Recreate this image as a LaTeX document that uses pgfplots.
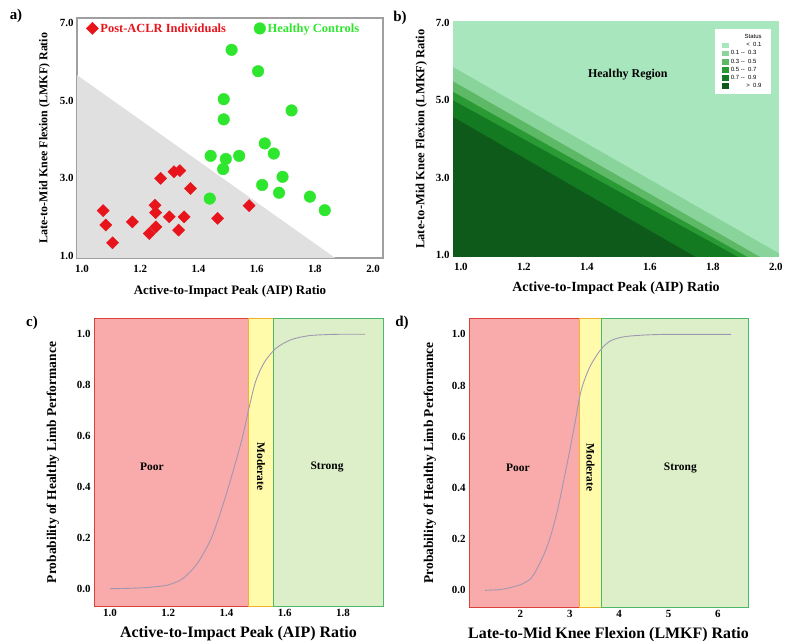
\documentclass[border=0pt]{standalone}
\usepackage{fontspec}
\setmainfont{Liberation Serif}
\newfontfamily\legsans{Liberation Sans}
\usepackage{pgfplots}
\pgfplotsset{compat=1.18}

\definecolor{aclrRed}{HTML}{E8141B}
\definecolor{ctrlGreen}{HTML}{2EE62E}
\definecolor{triGray}{HTML}{E0E0E0}
\definecolor{gA}{HTML}{A8E6BE}
\definecolor{gB}{HTML}{88D49A}
\definecolor{gC}{HTML}{5DB966}
\definecolor{gD}{HTML}{2A9A35}
\definecolor{gE}{HTML}{137A22}
\definecolor{gF}{HTML}{0E5A1A}
\definecolor{poorFill}{HTML}{F9AAAA}
\definecolor{poorLine}{HTML}{D9413A}
\definecolor{modFill}{HTML}{FFFBAA}
\definecolor{modLine}{HTML}{F0B030}
\definecolor{strFill}{HTML}{DCEFC8}
\definecolor{strLine}{HTML}{4CB86A}
\definecolor{curve}{HTML}{A098B0}

\pgfplotsset{
  panel/.style={
    scale only axis, anchor=south west,
    major tick length=0pt,
    xticklabel={\pgfmathprintnumber{\tick}},
    yticklabel={\pgfmathprintnumber{\tick}},
    tick label style={font=\bfseries\fontsize{11}{13}\selectfont},
    label style={font=\bfseries},
    /pgf/number format/.cd, fixed, fixed zerofill, precision=1, assume math mode=true,
  },
}

\begin{document}
\begin{tikzpicture}
\useasboundingbox (0,0) rectangle (787bp,641bp);

% ---------- a) scatter
\begin{axis}[panel, at={(77bp,383bp)}, width=306bp, height=240bp,
  xmin=0.983, xmax=2.034, ymin=0.95, ymax=7.13,
  xtick={1.0,1.2,1.4,1.6,1.8,2.0}, ytick={1.0,3.0,5.0,7.0},
  axis line style={draw=gray!75, line width=1.2pt},
  xticklabel style={yshift=-4bp},
  xlabel={\fontsize{13}{15}\selectfont Active-to-Impact Peak (AIP) Ratio},
  ylabel={\fontsize{12}{14}\selectfont Late-to-Mid Knee Flexion (LMKF) Ratio},
  xlabel style={yshift=-6bp}, ylabel style={yshift=3bp},
  legend columns=2,
  legend style={draw=none, fill=none, at={(0.02,0.995)}, anchor=north west,
    font=\bfseries\fontsize{12.5}{14}\selectfont,
    /tikz/every even column/.append style={column sep=26bp}},
]
\addplot[fill=triGray, draw=none, forget plot] coordinates {(0.983,0.95) (0.983,5.66) (1.87,0.95)} --cycle;
\addplot[only marks, mark=square*, mark size=4.3bp, color=aclrRed,
  mark options={rotate=45}] coordinates {
  (1.073,2.17) (1.082,1.80) (1.105,1.34) (1.173,1.88) (1.231,1.58)
  (1.254,1.75) (1.251,2.31) (1.253,2.12) (1.270,3.00) (1.300,2.01)
  (1.316,3.17) (1.336,3.20) (1.332,1.67) (1.351,2.01) (1.373,2.74)
  (1.466,1.97) (1.574,2.30)};
\addlegendentry{\textcolor{aclrRed}{Post-ACLR Individuals}}
\addplot[only marks, mark=*, mark size=5.8bp, color=ctrlGreen] coordinates {
  (1.514,6.31) (1.605,5.76) (1.487,5.04) (1.487,4.52) (1.720,4.75)
  (1.442,3.58) (1.494,3.50) (1.540,3.58) (1.485,3.24) (1.628,3.90)
  (1.659,3.64) (1.689,3.04) (1.619,2.83) (1.677,2.63) (1.439,2.48)
  (1.783,2.53) (1.834,2.18)};
\addlegendentry{\textcolor{ctrlGreen}{Healthy Controls}}
\end{axis}

% ---------- b) probability regions
\begin{axis}[panel, at={(453bp,384bp)}, width=326bp, height=236bp,
  xmin=0.975, xmax=2.01, ymin=0.95, ymax=7.05,
  xtick={1.0,1.2,1.4,1.6,1.8,2.0}, ytick={1.0,3.0,5.0,7.0},
  axis line style={draw=none},
  xticklabel style={yshift=-3bp},
  xlabel={\fontsize{14}{16}\selectfont Active-to-Impact Peak (AIP) Ratio},
  ylabel={\fontsize{12.5}{14}\selectfont Late-to-Mid Knee Flexion (LMKF) Ratio},
  xlabel style={yshift=-4bp}, ylabel style={yshift=2bp},
  legend cell align=left,
  legend style={draw=none, fill=white, at={(0.975,0.965)}, anchor=north east,
    font=\legsans\fontsize{6}{7}\selectfont, row sep=-1.5pt,
    inner xsep=7pt, inner ysep=3pt},
  legend image code/.code={\fill[#1] (0pt,-2.8pt) rectangle (6.5pt,2.8pt);},
]
\addlegendimage{empty legend}
\addlegendentry{\hspace{14pt}Status}
\addplot[fill=gA, draw=none] coordinates {(0.975,0.95) (0.975,7.05) (2.01,7.05) (2.01,0.95)} --cycle;
\addlegendentry{\hphantom{0.1 -- }< \ 0.1}
\addplot[fill=gB, draw=none] coordinates {(0.975,0.95) (0.975,5.86) (2.03,0.95)} --cycle;
\addlegendentry{0.1 -- \ 0.3}
\addplot[fill=gC, draw=none] coordinates {(0.975,0.95) (0.975,5.49) (1.95,0.95)} --cycle;
\addlegendentry{0.3 -- \ 0.5}
\addplot[fill=gD, draw=none] coordinates {(0.975,0.95) (0.975,5.22) (1.91,0.95)} --cycle;
\addlegendentry{0.5 -- \ 0.7}
\addplot[fill=gE, draw=none] coordinates {(0.975,0.95) (0.975,5.00) (1.88,0.95)} --cycle;
\addlegendentry{0.7 -- \ 0.9}
\addplot[fill=gF, draw=none] coordinates {(0.975,0.95) (0.975,4.57) (1.745,0.95)} --cycle;
\addlegendentry{\hphantom{0.1 -- }> \ 0.9}
\node[font=\bfseries\fontsize{12}{14}\selectfont] at (axis cs:1.53,5.65) {Healthy Region};
\end{axis}

% ---------- c) AIP probability curve
\begin{axis}[panel, at={(94bp,35bp)}, width=289bp, height=287bp,
  xmin=0.945, xmax=1.937, ymin=-0.068, ymax=1.06, clip=false,
  xtick={1.0,1.2,1.4,1.6,1.8}, ytick={0.0,0.2,0.4,0.6,0.8,1.0},
  axis line style={draw=none},
  xlabel={\fontsize{16}{18}\selectfont Active-to-Impact Peak (AIP) Ratio},
  ylabel={\fontsize{13.5}{16}\selectfont Probability of Healthy Limb Performance},
  xlabel style={yshift=-3bp}, ylabel style={yshift=11bp},
]
\addplot[fill=poorFill, draw=poorLine, line width=1pt] coordinates {(0.945,-0.068) (0.945,1.06) (1.475,1.06) (1.475,-0.068)} --cycle;
\addplot[fill=modFill, draw=modLine, line width=1pt] coordinates {(1.475,-0.068) (1.475,1.06) (1.561,1.06) (1.561,-0.068)} --cycle;
\addplot[fill=strFill, draw=strLine, line width=1pt] coordinates {(1.561,-0.068) (1.561,1.06) (1.937,1.06) (1.937,-0.068)} --cycle;
\addplot[curve, line width=0.9pt, smooth] coordinates {
  (1.00,0.000) (1.05,0.001) (1.10,0.003) (1.15,0.007) (1.20,0.015)
  (1.25,0.040) (1.30,0.100) (1.35,0.205) (1.40,0.375) (1.45,0.575)
  (1.475,0.700) (1.50,0.815) (1.53,0.890) (1.57,0.945) (1.62,0.978)
  (1.68,0.994) (1.75,0.999) (1.80,1.000) (1.876,1.000)};
\node[font=\bfseries\fontsize{11.5}{13}\selectfont] at (axis cs:1.144,0.48) {Poor};
\node[font=\bfseries\fontsize{11.5}{13}\selectfont, rotate=-90] at (axis cs:1.518,0.48) {Moderate};
\node[font=\bfseries\fontsize{11.5}{13}\selectfont] at (axis cs:1.745,0.48) {Strong};
\end{axis}

% ---------- d) LMKF probability curve
\begin{axis}[panel, at={(469bp,34bp)}, width=279bp, height=288bp,
  xmin=0.96, xmax=6.61, ymin=-0.065, ymax=1.06, clip=false,
  xtick={2,3,4,5,6}, ytick={0.0,0.2,0.4,0.6,0.8,1.0},
  xticklabel={\pgfmathprintnumber[precision=0]{\tick}},
  axis line style={draw=none},
  xlabel={\fontsize{16}{18}\selectfont Late-to-Mid Knee Flexion (LMKF) Ratio},
  ylabel={\fontsize{13.5}{16}\selectfont Probability of Healthy Limb Performance},
  xlabel style={yshift=-3bp}, ylabel style={yshift=9bp},
]
\addplot[fill=poorFill, draw=poorLine, line width=1pt] coordinates {(0.96,-0.065) (0.96,1.06) (3.19,1.06) (3.19,-0.065)} --cycle;
\addplot[fill=modFill, draw=modLine, line width=1pt] coordinates {(3.19,-0.065) (3.19,1.06) (3.64,1.06) (3.64,-0.065)} --cycle;
\addplot[fill=strFill, draw=strLine, line width=1pt] coordinates {(3.64,-0.065) (3.64,1.06) (6.61,1.06) (6.61,-0.065)} --cycle;
\addplot[curve, line width=0.9pt, smooth] coordinates {
  (1.28,0.000) (1.58,0.003) (1.78,0.010) (2.05,0.026) (2.26,0.058)
  (2.53,0.165) (2.73,0.295) (2.93,0.478) (3.10,0.648) (3.23,0.780)
  (3.40,0.870) (3.61,0.936) (3.81,0.973) (4.08,0.990) (4.48,0.997)
  (5.00,1.000) (6.27,1.000)};
\node[font=\bfseries\fontsize{11.5}{13}\selectfont] at (axis cs:1.95,0.48) {Poor};
\node[font=\bfseries\fontsize{11.5}{13}\selectfont, rotate=-90] at (axis cs:3.42,0.48) {Moderate};
\node[font=\bfseries\fontsize{11.5}{13}\selectfont] at (axis cs:5.24,0.48) {Strong};
\end{axis}

\node[font=\bfseries\fontsize{15}{17}\selectfont] at (16bp,625bp) {a)};
\node[font=\bfseries\fontsize{15}{17}\selectfont] at (400bp,623bp) {b)};
\node[font=\bfseries\fontsize{15}{17}\selectfont] at (32bp,318bp) {c)};
\node[font=\bfseries\fontsize{15}{17}\selectfont] at (402bp,318bp) {d)};
\end{tikzpicture}
\end{document}
